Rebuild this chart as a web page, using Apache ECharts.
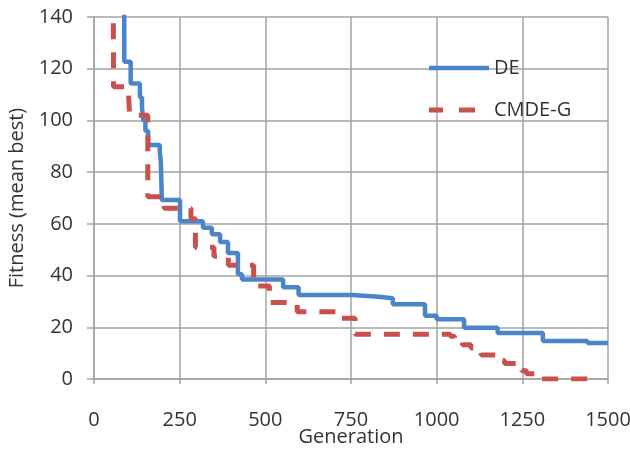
<!DOCTYPE html>
<html>
<head>
<meta charset="utf-8">
<title>DE vs CMDE-G</title>
<script src="https://cdn.jsdelivr.net/npm/echarts@6/dist/echarts.min.js"></script>
<style>
  html, body { margin: 0; padding: 0; background: #fff; }
  #chart { width: 630px; height: 449px; }
</style>
</head>
<body>
<div id="chart"></div>
<script>
// step change points: generation where the mean best fitness changes, and the new value
const deGen = [88, 88.5, 107, 134, 140, 144, 150, 158, 192, 195, 198, 251, 318, 344, 368, 391, 420, 432, 552, 597, 755, 830, 872, 966, 1000, 1080, 1178, 1310, 1440, 1500];
const deFit = [160, 122.7, 114.3, 109, 105, 100, 96, 90.5, 88, 84, 69.2, 61, 58.5, 56, 53, 48.7, 40.5, 38.5, 35.5, 32.5, 31.8, 31.2, 28.9, 24.5, 23.1, 19.8, 17.8, 14.7, 13.9, 13.9];

const cmdeGen = [56, 57, 100, 104, 157, 205, 283, 296, 350, 392, 466, 512, 593, 715, 762, 1040, 1052, 1064, 1075, 1100, 1115, 1130, 1172, 1185, 1198, 1232, 1248, 1262, 1285, 1305, 1450];
const cmdeFit = [160, 113, 112, 102, 70.5, 66, 62, 51, 47.5, 44, 36, 29.6, 26, 23.5, 17.3, 16.5, 15.5, 14.3, 13.2, 12, 10.8, 9.3, 8.5, 7.2, 6, 4.5, 3.2, 2, 0.8, 0, 0];

const xTicks = { min: 0, max: 1500, interval: 250 };
const yTicks = { min: 0, max: 140, interval: 20 };

const zip = (xs, ys) => xs.map((x, i) => [x, ys[i]]);

const gridColor = '#a3a3a3';
const textColor = '#333';
const font = 'Open Sans';

const chart = echarts.init(document.getElementById('chart'));
chart.setOption({
  backgroundColor: '#fff',
  animation: false,
  grid: { left: 94, right: 22, top: 17, bottom: 70, containLabel: false, outerBoundsMode: 'none' },
  legend: [
    {
      data: ['DE'],
      left: 424, top: 53,
      icon: 'path://M0,0h60v4.5h-60z',
      itemWidth: 60, itemHeight: 4.5,
      textStyle: { fontFamily: font, fontSize: 20, color: textColor }
    },
    {
      data: ['CMDE-G'],
      left: 424, top: 95,
      icon: 'path://M0,0h14v5h-14z M30,0h16v5h-16z',
      itemWidth: 46, itemHeight: 5,
      textStyle: { fontFamily: font, fontSize: 20, color: textColor, padding: [0, 0, 0, 14] }
    }
  ],
  xAxis: {
    type: 'value',
    min: xTicks.min, max: xTicks.max, interval: xTicks.interval,
    name: 'Generation',
    nameLocation: 'middle',
    nameGap: 48,
    nameMoveOverlap: false,
    nameTextStyle: { fontFamily: font, fontSize: 20, color: textColor },
    axisLine: { show: true, lineStyle: { color: gridColor, width: 1.5 } },
    axisTick: { show: true, length: 5, lineStyle: { color: gridColor, width: 1.5 } },
    axisLabel: { margin: 31, fontFamily: font, fontSize: 20, color: textColor, formatter: v => String(v) },
    splitLine: { show: true, lineStyle: { color: gridColor, width: 1.5 } }
  },
  yAxis: {
    type: 'value',
    min: yTicks.min, max: yTicks.max, interval: yTicks.interval,
    name: 'Fitness (mean best)',
    nameLocation: 'middle',
    nameGap: 67,
    nameMoveOverlap: false,
    nameTextStyle: { fontFamily: font, fontSize: 20, color: textColor },
    axisLine: { show: true, lineStyle: { color: gridColor, width: 1.5 } },
    axisTick: { show: true, length: 7, lineStyle: { color: gridColor, width: 1.5 } },
    axisLabel: { margin: 21, fontFamily: font, fontSize: 20, color: textColor },
    splitLine: { show: true, lineStyle: { color: gridColor, width: 1.5 } }
  },
  series: [
    {
      name: 'DE',
      type: 'line',
      step: 'end',
      symbol: 'none',
      clip: true,
      lineStyle: { color: '#4a84c9', width: 4.5 },
      itemStyle: { color: '#4a84c9' },
      data: zip(deGen, deFit)
    },
    {
      name: 'CMDE-G',
      type: 'line',
      step: 'end',
      symbol: 'none',
      clip: true,
      lineStyle: { color: '#c9504d', width: 5, type: [16, 13] },
      itemStyle: { color: '#c9504d' },
      data: zip(cmdeGen, cmdeFit)
    }
  ]
});
</script>
</body>
</html>
